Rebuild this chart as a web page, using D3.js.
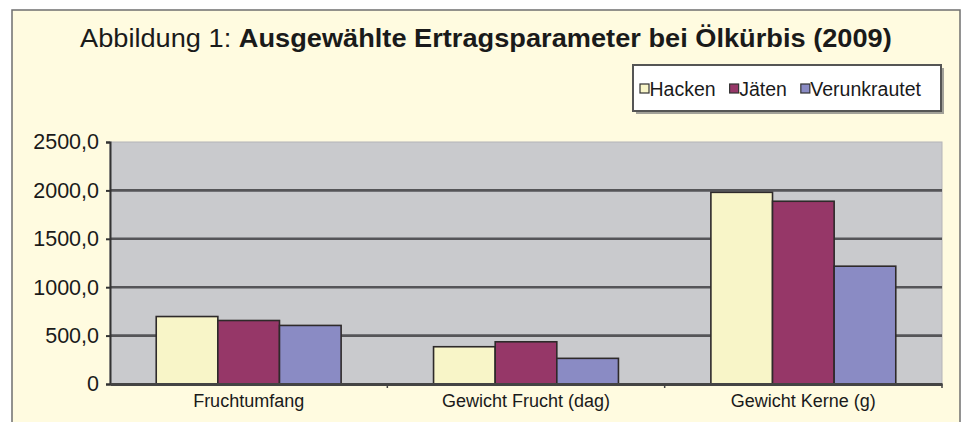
<!DOCTYPE html>
<html>
<head>
<meta charset="utf-8">
<script src="https://cdn.jsdelivr.net/npm/d3@7"></script>
<style>
  body { margin: 0; background: #fff; }
  svg { display: block; font-family: "Liberation Sans", Arial, sans-serif; }
</style>
</head>
<body>
<svg id="chart" width="964" height="422"></svg>
<script>
var categories = ["Fruchtumfang", "Gewicht Frucht (dag)", "Gewicht Kerne (g)"]
var series = ["Hacken", "Jäten", "Verunkrautet"]
var hacken = [697, 385, 1980]
var jaeten = [656, 436, 1888]
var verunkrautet = [605, 265, 1217]
var yTicks = [0, 500, 1000, 1500, 2000, 2500]
var colors = ["#f8f5c8", "#963768", "#8a8bc4"]

var values = [hacken, jaeten, verunkrautet]

var dims = {
  width: 964, height: 422,
  plot: { left: 110, right: 942, top: 142, bottom: 384 }
}

var svg = d3.select("#chart")

// outer frame
svg.append("rect")
  .attr("x", 12).attr("y", 10)
  .attr("width", 948).attr("height", 430)
  .attr("fill", "#fffbe0")
  .attr("stroke", "#6f6f6f")
  .attr("stroke-width", 1.5)

// title
var title = svg.append("text")
  .attr("x", 0).attr("y", 0)
  .attr("font-size", 24)
  .attr("fill", "#1a1a1a")
title.append("tspan").text("Abbildung 1: ")
title.append("tspan").attr("font-weight", "bold").text("Ausgewählte Ertragsparameter bei Ölkürbis (2009)")
var tw = title.node().getComputedTextLength()
var sx = 812 / tw
title.attr("transform", "translate(80,47) scale(" + sx + ",1.08)")

var xScale = d3.scaleBand()
  .domain(categories)
  .range([dims.plot.left, dims.plot.right])

var xInner = d3.scaleBand()
  .domain(series)
  .range([0, xScale.bandwidth()])
  .paddingOuter(0.75)

var yScale = d3.scaleLinear()
  .domain([0, 2500])
  .range([dims.plot.bottom, dims.plot.top])

// plot background
svg.append("rect")
  .attr("x", dims.plot.left).attr("y", dims.plot.top)
  .attr("width", dims.plot.right - dims.plot.left)
  .attr("height", dims.plot.bottom - dims.plot.top)
  .attr("fill", "#c9cacd")
  .attr("stroke", "#b4b4b8")
  .attr("stroke-width", 1)

// gridlines
svg.append("g")
  .selectAll("line")
  .data(yTicks.filter(function(d){ return d > 0 && d < 2500 }))
  .enter()
  .append("line")
  .attr("x1", dims.plot.left).attr("x2", dims.plot.right)
  .attr("y1", function(d){ return yScale(d) })
  .attr("y2", function(d){ return yScale(d) })
  .attr("stroke", "#48484b")
  .attr("stroke-width", 2.6)
  .attr("stroke-opacity", 0.9)

// bars
var groups = svg.append("g")
  .selectAll("g")
  .data(categories)
  .enter()
  .append("g")
  .attr("transform", function(d){ return "translate(" + xScale(d) + ",0)" })

groups.selectAll("rect")
  .data(function(d, i){ return series.map(function(s, j){ return { s: s, v: values[j][i], j: j } }) })
  .enter()
  .append("rect")
  .attr("x", function(d){ return xInner(d.s) })
  .attr("width", xInner.bandwidth())
  .attr("y", function(d){ return yScale(d.v) })
  .attr("height", function(d){ return dims.plot.bottom - yScale(d.v) })
  .attr("fill", function(d){ return colors[d.j] })
  .attr("stroke", "#2e2a2a")
  .attr("stroke-width", 1.6)

// y axis
var yAxis = d3.axisLeft(yScale)
  .tickValues(yTicks)
  .tickSize(4)
  .tickFormat(function(d){ return d === 0 ? "0" : d3.format(".1f")(d).replace(".", ",") })

var yG = svg.append("g")
  .attr("transform", "translate(" + dims.plot.left + ",0)")
  .call(yAxis)
yG.select(".domain").attr("stroke", "#333").attr("stroke-width", 2)
yG.selectAll(".tick line").attr("stroke", "#333").attr("stroke-width", 2)
yG.selectAll(".tick text")
  .attr("x", -11)
  .attr("font-size", 21.5)
  .attr("fill", "#1a1a1a")
  .attr("font-family", "Liberation Sans, Arial, sans-serif")

// x axis
var xAxis = d3.axisBottom(xScale)
  .tickSize(0)
  .tickSizeOuter(0)

var xG = svg.append("g")
  .attr("transform", "translate(0," + dims.plot.bottom + ")")
  .call(xAxis)
xG.select(".domain").attr("stroke", "#444").attr("stroke-width", 3)
xG.selectAll(".tick text")
  .attr("y", 10)
  .attr("font-size", 18)
  .attr("fill", "#1a1a1a")
  .attr("font-family", "Liberation Sans, Arial, sans-serif")

// category boundary ticks
svg.append("g")
  .selectAll("line")
  .data(categories.slice(1).concat(["end"]))
  .enter()
  .append("line")
  .attr("x1", function(d){ return d === "end" ? dims.plot.right : xScale(d) })
  .attr("x2", function(d){ return d === "end" ? dims.plot.right : xScale(d) })
  .attr("y1", dims.plot.bottom)
  .attr("y2", dims.plot.bottom + 4)
  .attr("stroke", "#444")
  .attr("stroke-width", 1.5)

// legend
var legend = svg.append("g")
legend.append("rect")
  .attr("x", 636).attr("y", 68)
  .attr("width", 308).attr("height", 46)
  .attr("fill", "#7a7a7a")
  .attr("opacity", 0.7)
legend.append("rect")
  .attr("x", 633).attr("y", 65)
  .attr("width", 308).attr("height", 46)
  .attr("fill", "#fff")
  .attr("stroke", "#555")
  .attr("stroke-width", 2)

var lx = 640
series.forEach(function(s, i){
  legend.append("rect")
    .attr("x", lx).attr("y", 84)
    .attr("width", 9).attr("height", 9)
    .attr("fill", colors[i])
    .attr("stroke", "#333")
    .attr("stroke-width", 1.2)
  var t = legend.append("text")
    .attr("x", lx + 9.5).attr("y", 96)
    .attr("font-size", 19.5)
    .attr("fill", "#1a1a1a")
    .text(s)
  lx = lx + 9.5 + t.node().getComputedTextLength() + 14
})
</script>
</body>
</html>
